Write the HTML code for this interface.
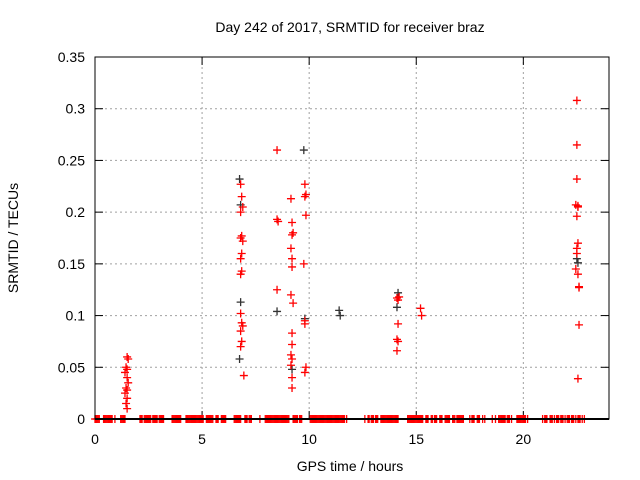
<!DOCTYPE html>
<html><head><meta charset="utf-8"><style>
body{margin:0;background:#fff}
svg{display:block;font-family:"Liberation Sans",sans-serif}
</style></head><body>
<svg id="c" width="640" height="480"></svg>
<script>
const xTicks=[0,5,10,15,20];
const yTicks=[0,0.05,0.1,0.15,0.2,0.25,0.3,0.35];
const yTickLabels=["0","0.05","0.1","0.15","0.2","0.25","0.3","0.35"];
const redX=[1.5,1.55,1.45,1.5,1.4,1.5,1.55,1.45,1.5,1.4,1.5,1.45,1.5,
6.8,6.85,6.9,6.8,6.85,6.8,6.9,6.85,6.8,6.85,6.8,6.8,6.85,6.9,6.8,6.85,6.8,6.95,
8.5,8.5,8.55,8.5,9.15,9.2,9.25,9.2,9.15,9.2,9.2,9.15,9.25,9.2,9.2,9.15,9.2,9.2,9.2,9.15,
9.8,9.85,9.8,9.85,9.75,9.8,9.85,9.8,9.8,
14.1,14.15,14.2,14.15,14.1,14.15,14.1,15.2,15.25,
22.5,22.5,22.5,22.45,22.55,22.5,22.55,22.5,22.5,22.45,22.55,22.6,22.6,22.6,22.55,22.55];
const redY=[0.06,0.058,0.05,0.048,0.045,0.04,0.035,0.03,0.028,0.025,0.02,0.015,0.01,
0.227,0.215,0.205,0.2,0.177,0.175,0.172,0.16,0.155,0.143,0.14,0.102,0.093,0.09,0.085,0.075,0.07,0.042,
0.26,0.193,0.191,0.125,0.213,0.19,0.18,0.178,0.165,0.155,0.147,0.12,0.112,0.083,0.072,0.062,0.058,0.04,0.03,0.052,
0.227,0.217,0.215,0.197,0.15,0.092,0.05,0.045,0.095,
0.117,0.115,0.118,0.092,0.077,0.075,0.066,0.107,0.1,
0.308,0.265,0.232,0.207,0.205,0.196,0.17,0.165,0.16,0.145,0.14,0.128,0.127,0.091,0.039,0.206];
const blackX=[6.75,6.8,6.8,6.75,8.5,9.2,9.75,9.8,11.4,11.45,14.15,14.1,22.5,22.55];
const blackY=[0.232,0.207,0.113,0.058,0.104,0.048,0.26,0.097,0.105,0.1,0.122,0.108,0.155,0.151];
const zeroX=[0,0.05,0.1,0.15,0.2,0.4,0.45,0.5,0.55,0.6,0.65,0.7,0.75,0.8,0.93,1.2,1.25,1.3,1.35,1.4,2.1,2.15,2.2,2.3,2.35,2.4,2.45,2.5,2.55,2.6,2.7,2.75,2.8,2.85,2.9,3.0,3.05,3.1,3.15,3.2,3.6,3.65,3.7,3.75,3.8,3.85,3.9,3.95,4.0,4.25,4.3,4.35,4.4,4.45,4.5,4.55,4.6,4.65,4.7,4.75,4.8,4.85,4.9,4.95,5.0,5.05,5.2,5.25,5.3,5.35,5.4,5.45,5.5,5.65,5.7,5.75,5.9,5.95,6.0,6.05,6.1,6.5,6.55,6.6,6.65,6.7,6.75,6.8,7.0,7.05,7.1,7.2,7.25,7.3,7.7,7.95,8.0,8.05,8.1,8.15,8.2,8.25,8.3,8.35,8.4,8.45,8.5,8.55,8.6,8.65,8.7,8.75,8.8,8.85,8.9,8.95,9.0,9.05,9.25,9.3,9.35,9.4,9.45,9.55,9.6,9.65,10.05,10.1,10.15,10.2,10.25,10.3,10.35,10.4,10.45,10.5,10.55,10.6,10.65,10.7,10.75,10.8,10.85,10.9,10.95,11.0,11.05,11.1,11.15,11.2,11.25,11.3,11.35,11.4,11.45,11.5,11.55,11.6,11.65,11.75,12.6,12.75,12.8,12.9,12.95,13.0,13.1,13.15,13.2,13.35,13.4,13.45,13.5,13.55,13.6,13.65,13.7,13.75,13.8,13.85,13.9,13.95,14.0,14.05,14.1,14.15,14.6,14.65,14.7,14.75,14.8,14.85,14.9,14.95,15.0,15.05,15.1,15.15,15.2,15.25,15.3,15.45,15.5,15.55,15.7,15.75,15.85,15.9,15.95,16.1,16.15,16.2,16.35,16.4,16.45,16.5,16.55,16.7,16.75,16.8,16.9,16.95,17.0,17.05,17.1,17.15,17.2,17.5,17.6,17.65,17.7,17.85,17.9,17.95,18.1,18.2,18.55,18.7,18.85,18.9,18.95,19.0,19.05,19.1,19.15,19.25,19.3,19.35,19.45,19.7,19.75,19.8,19.85,19.9,19.95,20.0,20.05,20.1,20.2,20.9,21.0,21.05,21.1,21.25,21.3,21.35,21.45,21.55,21.6,21.65,21.75,21.8,21.85,21.95,22.05,22.1,22.15,22.25,22.3,22.35,22.45,22.55,22.6,22.65,22.75,22.85];

const L=95,R=609,T=57,B=419,XMAX=24,YMAX=0.35;
const sx=v=>L+(R-L)*v/XMAX, sy=v=>B-(B-T)*v/YMAX;
const svg=document.getElementById('c'),NS='http://www.w3.org/2000/svg';
function mk(tag,attrs,parent){const e=document.createElementNS(NS,tag);for(const k in attrs)e.setAttribute(k,attrs[k]);(parent||svg).appendChild(e);return e;}
function txt(x,y,s,anchor,extra){const t=mk('text',Object.assign({x:x,y:y,'font-size':14,'text-anchor':anchor,fill:'#000'},extra||{}));t.textContent=s;return t;}

const grid=mk('g',{});


yTicks.forEach((v,i)=>{
  if(i>0&&i<yTicks.length-1)mk('line',{x1:L,x2:R,y1:sy(v),y2:sy(v),stroke:'#a0a0a0','stroke-dasharray':'2,3'},grid);
  mk('line',{x1:L,x2:L+8,y1:sy(v),y2:sy(v),stroke:'#000'},grid);
  mk('line',{x1:R,x2:R-8,y1:sy(v),y2:sy(v),stroke:'#000'},grid);
  const t=txt(L-10,sy(v)+5,yTickLabels[i],'end');
  
  
});
xTicks.forEach(v=>{
  if(v>0)mk('line',{x1:sx(v),x2:sx(v),y1:T,y2:B,stroke:'#a0a0a0','stroke-dasharray':'2,3'},grid);
  mk('line',{x1:sx(v),x2:sx(v),y1:B,y2:B-8,stroke:'#000'},grid);
  mk('line',{x1:sx(v),x2:sx(v),y1:T,y2:T+8,stroke:'#000'},grid);
  const t=txt(sx(v),B+25,String(v),'middle');
  
  
});

function plus(x,y,col,g){mk('path',{d:`M${x-4},${y}h8M${x},${y-4}v8`,stroke:col,'stroke-width':1.3,fill:'none'},g);}
const gz=mk('g',{});


zeroX.forEach(v=>plus(sx(v),sy(0),'#ff0000',gz));
const gb=mk('g',{});


blackX.forEach((v,i)=>plus(sx(v),sy(blackY[i]),'#333',gb));
const gr=mk('g',{});


redX.forEach((v,i)=>plus(sx(v),sy(redY[i]),'#ff0000',gr));

const fr=mk('rect',{x:L,y:T,width:R-L,height:B-T,fill:'none',stroke:'#000'});


const ax=mk('line',{x1:L,x2:R,y1:B,y2:B,stroke:'#000','stroke-width':2});



const ti=txt(350,32,'Day 242 of 2017, SRMTID for receiver braz','middle');


const xl=txt(350,471,'GPS time / hours','middle');


const yl=txt(18,238,'SRMTID / TECUs','middle',{transform:'rotate(-90 18 238)'});


</script>
</body></html>
